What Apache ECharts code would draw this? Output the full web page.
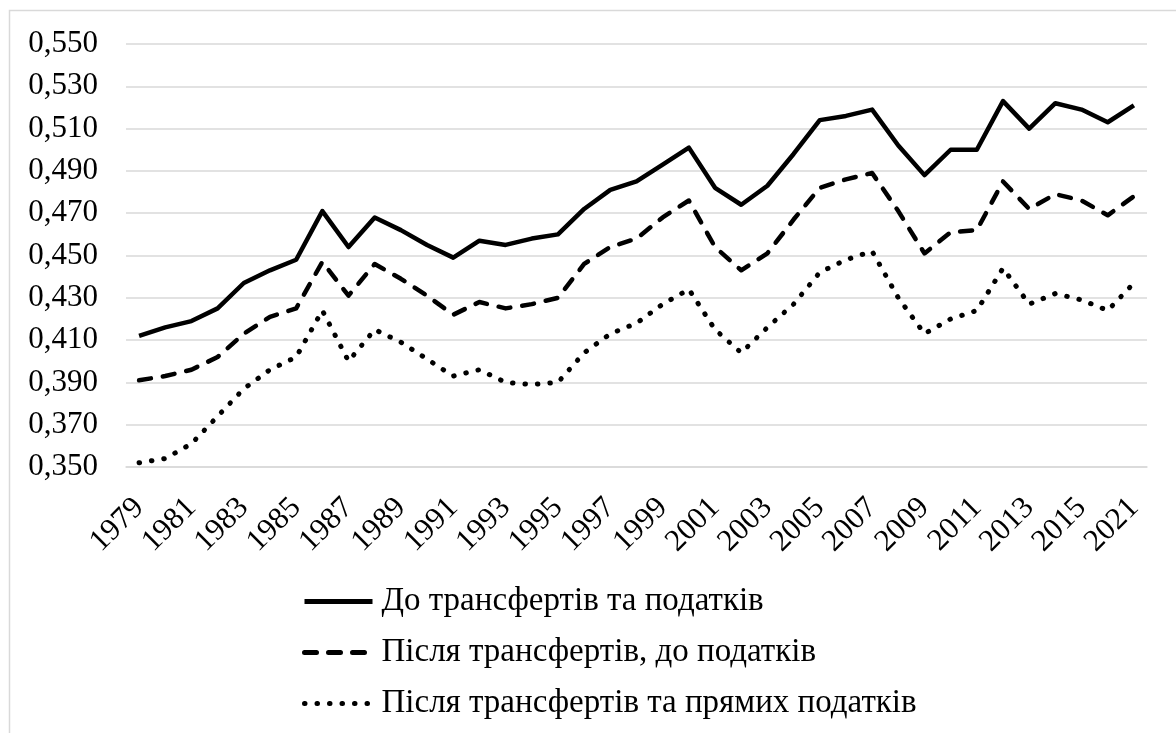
<!DOCTYPE html>
<html>
<head>
<meta charset="utf-8">
<script src="https://cdn.jsdelivr.net/npm/echarts@6/dist/echarts.min.js"></script>
<style>
html,body{margin:0;padding:0;background:#fff;}
#chart{width:1176px;height:733px;}
</style>
</head>
<body>
<div id="chart"></div>
<script>
const years = ['1979','1980','1981','1982','1983','1984','1985','1986','1987','1988','1989','1990','1991','1992','1993','1994','1995','1996','1997','1998','1999','2000','2001','2002','2003','2004','2005','2006','2007','2008','2009','2010','2011','2012','2013','2014','2015','2016','2021'];

const seriesNames = ['До трансфертів та податків', 'Після трансфертів, до податків', 'Після трансфертів та прямих податків'];

const beforeTransfers = [0.412,0.416,0.419,0.425,0.437,0.443,0.448,0.471,0.454,0.468,0.462,0.455,0.449,0.457,0.455,0.458,0.460,0.472,0.481,0.485,0.493,0.501,0.482,0.474,0.483,0.498,0.514,0.516,0.519,0.502,0.488,0.500,0.500,0.523,0.510,0.522,0.519,0.513,0.521];

const afterTransfers = [0.391,0.393,0.396,0.402,0.413,0.421,0.425,0.447,0.431,0.446,0.439,0.431,0.422,0.428,0.425,0.427,0.430,0.446,0.454,0.458,0.468,0.476,0.454,0.443,0.451,0.467,0.482,0.486,0.489,0.471,0.451,0.461,0.462,0.485,0.472,0.479,0.476,0.469,0.478];

const afterTaxes = [0.352,0.354,0.361,0.374,0.387,0.396,0.402,0.424,0.400,0.415,0.409,0.401,0.393,0.396,0.390,0.389,0.390,0.404,0.413,0.418,0.427,0.434,0.415,0.404,0.416,0.427,0.442,0.448,0.452,0.430,0.413,0.420,0.424,0.444,0.427,0.432,0.429,0.424,0.437];

const yMin = 0.350, yMax = 0.550, yStep = 0.020;

const FONT = 'Liberation Serif';
const chart = echarts.init(document.getElementById('chart'));

function lineSeries(name, data, dash, cap, width) {
  return {
    name: name,
    type: 'line',
    data: data,
    symbol: 'none',
    showSymbol: false,
    animation: false,
    lineStyle: { color: '#000', width: width, type: dash, cap: cap, join: 'round' },
    itemStyle: { color: '#000' }
  };
}

chart.setOption({
  animation: false,
  backgroundColor: '#fff',
  graphic: [{
    type: 'rect',
    shape: { x: 9.5, y: 10.5, width: 1180, height: 740 },
    style: { fill: 'none', stroke: '#d9d9d9', lineWidth: 1.5 },
    silent: true
  }],
  grid: { left: 126, right: 29, top: 44, bottom: 266, containLabel: false },
  xAxis: {
    type: 'category',
    data: years,
    boundaryGap: true,
    axisLine: { show: true, lineStyle: { color: '#d9d9d9', width: 1.5 } },
    axisTick: { show: false },
    axisLabel: {
      interval: 1,
      rotate: 45,
      margin: 36,
      color: '#000',
      fontFamily: FONT,
      fontSize: 31
    },
    splitLine: { show: false }
  },
  yAxis: {
    type: 'value',
    min: yMin,
    max: yMax,
    interval: yStep,
    axisLine: { show: false },
    axisTick: { show: false },
    axisLabel: {
      margin: 28,
      color: '#000',
      fontFamily: FONT,
      fontSize: 31,
      formatter: v => v.toFixed(3).replace('.', ',')
    },
    splitLine: { show: true, lineStyle: { color: '#d9d9d9', width: 1.5 } }
  },
  legend: {
    orient: 'vertical',
    left: 297,
    top: 580,
    itemWidth: 68,
    itemHeight: 14,
    itemGap: 18,
    itemStyle: { color: 'rgba(0,0,0,0)', borderWidth: 0, opacity: 0 },
    lineStyle: { width: 5 },
    textStyle: { color: '#000', fontFamily: FONT, fontSize: 33, lineHeight: 33, padding: [0,0,0,4] },
    data: seriesNames
  },
  series: [
    lineSeries(seriesNames[0], beforeTransfers, 'solid', 'butt', 4.5),
    lineSeries(seriesNames[1], afterTransfers, [12, 12], 'round', 4.5),
    lineSeries(seriesNames[2], afterTaxes, [0.5, 12], 'round', 5)
  ]
});
</script>
</body>
</html>
